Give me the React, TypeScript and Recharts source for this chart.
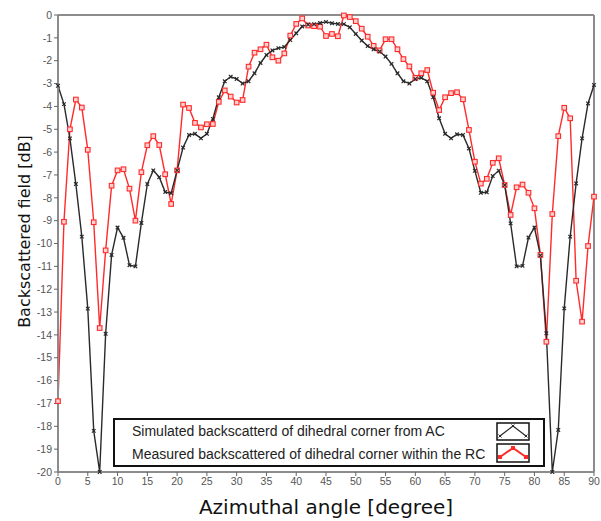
import React from "react";
import { LineChart, Line, XAxis, YAxis, ReferenceLine, Label } from "recharts";

const angles = [
  0, 1, 2, 3, 4, 5, 6, 7, 8, 9, 10, 11, 12, 13, 14, 15, 16, 17, 18, 19, 20,
  21, 22, 23, 24, 25, 26, 27, 28, 29, 30, 31, 32, 33, 34, 35, 36, 37, 38, 39, 40,
  41, 42, 43, 44, 45, 46, 47, 48, 49, 50, 51, 52, 53, 54, 55, 56, 57, 58, 59, 60,
  61, 62, 63, 64, 65, 66, 67, 68, 69, 70, 71, 72, 73, 74, 75, 76, 77, 78, 79, 80,
  81, 82, 83, 84, 85, 86, 87, 88, 89, 90,
];

const simulated = [
  -3.1, -3.9, -5.4, -7.4, -9.7, -12.85, -18.2, -20, -13.95, -10.5, -9.3,
  -9.75, -10.95, -11.0, -9.1, -7.4, -6.8, -7.1, -7.75, -7.8, -6.8,
  -5.8, -5.25, -5.2, -5.4, -5.2, -4.55, -3.6, -2.9, -2.7, -2.8,
  -3.0, -2.9, -2.55, -2.1, -1.75, -1.55, -1.45, -1.4, -1.1, -0.8,
  -0.5, -0.42, -0.4, -0.35, -0.3, -0.36, -0.39, -0.4, -0.54, -0.83,
  -1.12, -1.36, -1.5, -1.6, -1.82, -2.14, -2.55, -2.9, -3.0, -2.8,
  -2.75, -2.9, -3.6, -4.52, -5.2, -5.4, -5.22, -5.25, -5.84, -6.82,
  -7.78, -7.76, -7.05, -6.81, -7.44, -9.12, -11.0, -10.98, -9.74, -9.3,
  -10.52, -13.93, -20, -18.16, -12.84, -9.7, -7.37, -5.4, -3.87, -3.06,
];

const measured = [
  -16.9, -9.05, -5.0, -3.7, -4.05, -5.9, -9.07, -13.7, -10.3, -7.47, -6.8,
  -6.75, -7.6, -9.0, -6.88, -5.7, -5.3, -5.69, -6.97, -8.27, -6.8,
  -3.92, -4.07, -4.72, -4.92, -4.78, -4.77, -3.8, -3.3, -3.57, -3.83,
  -3.72, -2.26, -1.65, -1.5, -1.3, -1.85, -2.0, -1.68, -0.9, -0.39,
  -0.15, -0.46, -0.49, -0.51, -0.92, -0.83, -0.93, -0.02, -0.09, -0.27,
  -0.6, -0.95, -1.35, -1.55, -1.06, -1.06, -1.5, -1.93, -2.25, -2.75,
  -2.55, -2.41, -3.4, -4.16, -3.6, -3.42, -3.38, -3.69, -5.03, -6.42,
  -7.38, -7.17, -6.47, -6.27, -7.44, -8.75, -7.54, -7.42, -7.78, -8.46,
  -10.5, -14.3, -8.71, -5.3, -4.06, -4.52, -11.63, -13.42, -10.11, -7.95,
];

const xTicks = [0, 5, 10, 15, 20, 25, 30, 35, 40, 45, 50, 55, 60, 65, 70, 75, 80, 85, 90];
const yTicks = [0, -1, -2, -3, -4, -5, -6, -7, -8, -9, -10, -11, -12, -13, -14, -15, -16, -17, -18, -19, -20];

const legendLabels = [
  "Simulated backscatterd of dihedral corner from AC",
  "Measured backscattered of dihedral corner within the RC",
];

const data = angles.map((a, i) => ({ angle: a, sim: simulated[i], meas: measured[i] }));

const BLACK = "#2a2a2a";
const RED = "#ff2b2b";
const AXIS = "#8c8c8c";

const XDot = (props: any) => {
  const { cx, cy, index } = props;
  if (cx == null || cy == null) return null;
  const s = 1.8;
  return (
    <g key={`x-${index}`}>
      <line x1={cx - s} y1={cy - s} x2={cx + s} y2={cy + s} stroke={BLACK} strokeWidth={1.2} />
      <line x1={cx - s} y1={cy + s} x2={cx + s} y2={cy - s} stroke={BLACK} strokeWidth={1.2} />
    </g>
  );
};

const SqDot = (props: any) => {
  const { cx, cy, index } = props;
  if (cx == null || cy == null) return null;
  const s = 2.3;
  return (
    <rect key={`s-${index}`} x={cx - s} y={cy - s} width={2 * s} height={2 * s} fill="#ffd0d0" stroke={RED} strokeWidth={1.1} />
  );
};

const YTitle = (props: any) => {
  const vb = props.viewBox || {};
  const x = 22;
  const y = (vb.y ?? 0) + (vb.height ?? 0) / 2 - 12;
  return (
    <text
      x={x}
      y={y}
      transform={`rotate(-90, ${x}, ${y})`}
      textAnchor="middle"
      style={{ fontSize: 16, fill: "#111", fontFamily: "DejaVu Sans, sans-serif" }}
    >
      Backscattered field [dB]
    </text>
  );
};

const tickStyle = { fontSize: 10.5, fill: "#555", fontFamily: "Liberation Sans, Arial, sans-serif" };

export default function App() {
  return (
    <div style={{ position: "absolute", left: 8, top: 8, width: 593, height: 513, background: "#fff" }}>
      <LineChart width={593} height={513} data={data} margin={{ top: 7, right: 7, left: 0, bottom: 0 }}>
        <XAxis
          dataKey="angle"
          type="number"
          domain={[0, 90]}
          ticks={xTicks}
          interval={0}
          height={49}
          tick={tickStyle}
          tickSize={4}
          stroke={AXIS}
          strokeWidth={2}
          tickLine={{ stroke: "#666", strokeWidth: 1 }}
        >
          <Label
            value="Azimuthal angle [degree]"
            position="insideBottom"
            offset={7}
            style={{ fontSize: 20, fill: "#111", fontFamily: "DejaVu Sans, sans-serif" }}
          />
        </XAxis>
        <YAxis
          type="number"
          domain={[-20, 0]}
          ticks={yTicks}
          interval={0}
          width={50}
          tick={tickStyle}
          tickSize={4}
          stroke={AXIS}
          strokeWidth={2}
          tickLine={{ stroke: "#666", strokeWidth: 1 }}
        >
          <Label content={YTitle} />
        </YAxis>
        <ReferenceLine y={0} stroke={AXIS} strokeWidth={2} ifOverflow="extendDomain" />
        <ReferenceLine x={90} stroke={AXIS} strokeWidth={2} ifOverflow="extendDomain" />
        <Line
          dataKey="meas"
          type="linear"
          stroke={RED}
          strokeWidth={1.4}
          dot={SqDot}
          activeDot={false}
          isAnimationActive={false}
        />
        <Line
          dataKey="sim"
          type="linear"
          stroke={BLACK}
          strokeWidth={1.4}
          dot={XDot}
          activeDot={false}
          isAnimationActive={false}
        />
      </LineChart>
      <div
        style={{
          position: "absolute",
          left: 105,
          top: 410,
          width: 428,
          height: 45,
          border: "2px solid #111",
          background: "#fff",
          fontFamily: "Liberation Sans, Arial, sans-serif",
          fontSize: 14,
          color: "#222",
        }}
      >
        <div style={{ position: "absolute", left: 17, top: 3, whiteSpace: "nowrap" }}>{legendLabels[0]}</div>
        <div style={{ position: "absolute", left: 17, top: 26, whiteSpace: "nowrap" }}>{legendLabels[1]}</div>
        <svg style={{ position: "absolute", left: 381, top: 2 }} width={34} height={41}>
          <rect x={1} y={1} width={32} height={17} fill="#fff" stroke="#111" strokeWidth={1.5} />
          <polyline points="4,14 17,4 30,14" fill="none" stroke={BLACK} strokeWidth={1.2} />
          <path d="M2.5,12.5 L5.5,15.5 M2.5,15.5 L5.5,12.5 M15.5,2.5 L18.5,5.5 M15.5,5.5 L18.5,2.5 M28.5,12.5 L31.5,15.5 M28.5,15.5 L31.5,12.5" stroke={BLACK} strokeWidth={1} />
          <rect x={1} y={22} width={32} height={18} fill="#fff" stroke="#111" strokeWidth={1.5} />
          <polyline points="4,35 17,26 30,35" fill="none" stroke={RED} strokeWidth={2} />
          <rect x={2} y={33} width={4} height={4} fill={RED} />
          <rect x={15} y={24} width={4} height={4} fill={RED} />
          <rect x={28} y={33} width={4} height={4} fill={RED} />
        </svg>
      </div>
    </div>
  );
}
